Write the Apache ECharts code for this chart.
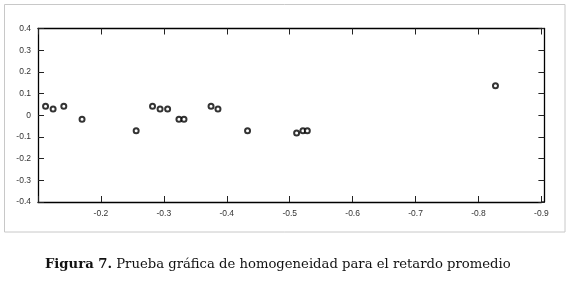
<!DOCTYPE html>
<html>
<head>
<meta charset="utf-8">
<script src="https://cdn.jsdelivr.net/npm/echarts@6/dist/echarts.min.js"></script>
<style>
  html, body { margin: 0; padding: 0; background: #fff; }
  #chart { width: 570px; height: 285px; }
</style>
</head>
<body>
<div id="chart"></div>
<script>
// retardo promedio (eje x, invertido) vs. diferencia (eje y)
const retardo = [-0.112, -0.124, -0.141, -0.170, -0.256, -0.282, -0.294, -0.306, -0.324, -0.332,
  -0.375, -0.386, -0.433, -0.511, -0.521, -0.528, -0.827];
const diferencia = [0.042, 0.029, 0.042, -0.018, -0.071, 0.042, 0.029, 0.029, -0.018, -0.018,
  0.042, 0.029, -0.071, -0.082, -0.071, -0.071, 0.136];
const caption = "Prueba gráfica de homogeneidad para el retardo promedio";

const chart = echarts.init(document.getElementById("chart"));

const axisFont = { fontFamily: "Liberation Sans", fontSize: 8.5, color: "#333" };
const lineStyle = { color: "#000", width: 1.3 };
const tick = { show: true, inside: true, length: 6, lineStyle: { color: "#222", width: 1 } };

const option = {
  animation: false,
  grid: { left: 38, top: 28.5, right: 28.6, bottom: 83 },
  xAxis: [
    {
      type: "value", inverse: true, min: -0.9, max: -0.1, interval: 0.1,
      axisLine: { show: true, lineStyle: lineStyle, onZero: false },
      axisTick: tick, splitLine: { show: false },
      axisLabel: Object.assign({
        margin: 7,
        formatter: (v) => (Math.abs(v + 0.1) < 1e-6 ? "" : v.toFixed(1)),
      }, axisFont),
    },
    {
      type: "value", inverse: true, min: -0.9, max: -0.1, interval: 0.1, position: "top",
      axisLine: { show: true, lineStyle: lineStyle, onZero: false },
      axisTick: tick, splitLine: { show: false }, axisLabel: { show: false },
    },
  ],
  yAxis: [
    {
      type: "value", min: -0.4, max: 0.4, interval: 0.1,
      axisLine: { show: true, lineStyle: lineStyle, onZero: false },
      axisTick: tick, splitLine: { show: false },
      axisLabel: Object.assign({
        margin: 7,
        formatter: (v) => (Math.abs(v) < 1e-6 ? "0" : v.toFixed(1)),
      }, axisFont),
    },
    {
      // the right frame sits a little past -0.9
      type: "value", min: -0.4, max: 0.4, interval: 0.1, position: "right", offset: 3,
      axisLine: { show: true, lineStyle: lineStyle, onZero: false },
      axisTick: tick, splitLine: { show: false }, axisLabel: { show: false },
    },
  ],
  series: [
    {
      type: "scatter",
      xAxisIndex: 0,
      yAxisIndex: 0,
      data: retardo.map((x, i) => [x, diferencia[i]]),
      symbol: "emptyCircle",
      symbolSize: 5,
      itemStyle: { color: "#000", borderColor: "#000", borderWidth: 1.4 },
    },
  ],
  graphic: [
    {
      type: "rect", silent: true,
      shape: { x: 4.5, y: 4.5, width: 560.5, height: 227.5 },
      style: { fill: "none", stroke: "#c8c8c8", lineWidth: 1 },
    },
    // close the frame corners between -0.9 and the right axis
    { type: "line", silent: true, shape: { x1: 541, y1: 28.5, x2: 544.5, y2: 28.5 }, style: { stroke: "#000", lineWidth: 1.3 } },
    { type: "line", silent: true, shape: { x1: 541, y1: 202, x2: 544.5, y2: 202 }, style: { stroke: "#000", lineWidth: 1.3 } },
    {
      type: "text", left: 45, top: 258,
      style: {
        text: "{b|Figura 7.} " + caption,
        rich: {
          b: { fontFamily: "DejaVu Serif", fontWeight: "bold", fontSize: 13.2, fill: "#111" },
        },
        fontFamily: "DejaVu Serif", fontSize: 13.2, fill: "#111",
      },
    },
  ],
};

chart.setOption(option);
</script>
</body>
</html>
